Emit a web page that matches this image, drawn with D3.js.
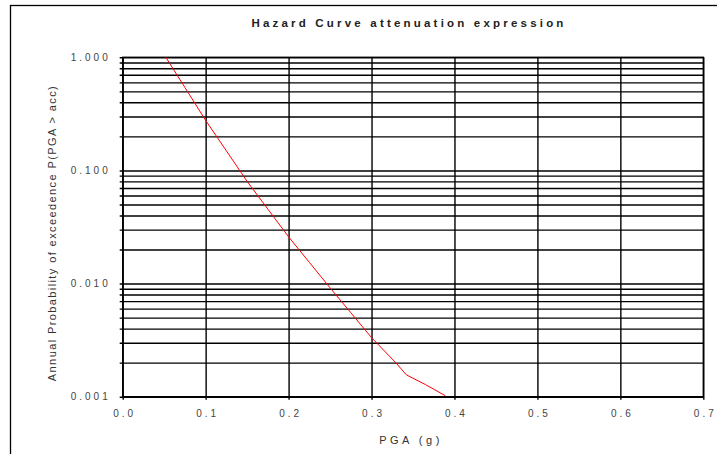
<!DOCTYPE html>
<html>
<head>
<meta charset="utf-8">
<script src="https://cdn.jsdelivr.net/npm/d3@7"></script>
<style>
  body { margin: 0; background: #fff; }
  svg text { font-family: "Liberation Sans", Arial, sans-serif; }
  .tick text { fill: #444; font-size: 10px; letter-spacing: 3px; }
  .grid line { stroke: #000; stroke-width: 1.4; }
  .grid .domain { display: none; }
</style>
</head>
<body>
<div id="chart"></div>
<script>
// PGA (g)
var pga = [0.052, 0.075, 0.1, 0.125, 0.15, 0.175, 0.2, 0.225, 0.25, 0.275, 0.3, 0.33, 0.342, 0.365, 0.389];
// annual probability of exceedence at each PGA
var prob = [1.0, 0.541, 0.277, 0.149, 0.080, 0.0455, 0.0259, 0.0154, 0.00918, 0.00553, 0.00333, 0.00197, 0.00156, 0.00128, 0.00102];

// tick labels
var xTicks = [0.0, 0.1, 0.2, 0.3, 0.4, 0.5, 0.6, 0.7];
var yDecades = [0.001, 0.01, 0.1, 1];

var width = 717;
var height = 454;

// plot box
var plotLeft = 122.7, plotRight = 703.3, plotTop = 57.3, plotBottom = 396.7;
var stub = 3; // grid lines poke out past the box a little

var svg = d3.select("#chart")
    .append("svg")
    .attr("width", width)
    .attr("height", height);

// outer frame (runs off the right and bottom of the picture)
svg.append("rect")
    .attr("x", 10.5)
    .attr("y", 5.5)
    .attr("width", 740)
    .attr("height", 480)
    .attr("fill", "none")
    .attr("stroke", "#000")
    .attr("stroke-width", 1.3);

var xScale = d3.scaleLinear().domain([0, 0.7]).range([plotLeft, plotRight]);
var yScale = d3.scaleLog().domain([0.001, 1]).range([plotBottom, plotTop]);

// every 1..9 step in each decade gets a grid line
var yGrid = [];
yDecades.forEach(function(d) {
  if (d === 1) { yGrid.push(1); return; }
  for (var k = 1; k <= 9; k++) yGrid.push(+(d * k).toPrecision(3));
});

var yAxis = d3.axisLeft(yScale)
    .tickValues(yGrid)
    .tickSizeInner(-(plotRight - plotLeft + stub))
    .tickSizeOuter(0)
    .tickPadding(9)
    .tickFormat(function(d) {
      return yDecades.indexOf(d) >= 0 ? d3.format(".3f")(d) : "";
    });

svg.append("g")
    .attr("class", "grid")
    .attr("transform", `translate(${plotLeft - stub}, 0)`)
    .call(yAxis);

var xAxis = d3.axisBottom(xScale)
    .tickValues(xTicks)
    .tickSizeInner(-(plotBottom - plotTop + stub))
    .tickSizeOuter(0)
    .tickPadding(10)
    .tickFormat(d3.format(".1f"));

svg.append("g")
    .attr("class", "grid xgrid")
    .attr("transform", `translate(0, ${plotBottom + stub})`)
    .call(xAxis);

// nudge labels so letter-spacing keeps them centred
svg.selectAll(".xgrid .tick text").attr("dx", 1.5);

// plot border
svg.append("rect")
    .attr("x", plotLeft)
    .attr("y", plotTop)
    .attr("width", plotRight - plotLeft)
    .attr("height", plotBottom - plotTop)
    .attr("fill", "none")
    .attr("stroke", "#000")
    .attr("stroke-width", 1.4);

// hazard curve
var line = d3.line()
    .x(function(d, i) { return xScale(pga[i]); })
    .y(function(d) { return yScale(d); });

svg.append("path")
    .datum(prob)
    .attr("d", line)
    .attr("fill", "none")
    .attr("stroke", "#ff0000")
    .attr("stroke-width", 1);

// title
svg.append("text")
    .attr("x", 409)
    .attr("y", 27)
    .attr("text-anchor", "middle")
    .style("font-size", "11.5px")
    .style("font-weight", "bold")
    .style("letter-spacing", "3.2px")
    .attr("fill", "#222")
    .text("Hazard Curve attenuation expression");

// x label
svg.append("text")
    .attr("x", 411)
    .attr("y", 444)
    .attr("text-anchor", "middle")
    .style("font-size", "11px")
    .style("letter-spacing", "3.5px")
    .attr("fill", "#333")
    .text("PGA (g)");

// y label
svg.append("text")
    .attr("transform", `translate(56, 233) rotate(-90)`)
    .attr("text-anchor", "middle")
    .style("font-size", "11px")
    .style("letter-spacing", "1.4px")
    .attr("fill", "#333")
    .text("Annual Probability of exceedence P(PGA > acc)");
</script>
</body>
</html>
